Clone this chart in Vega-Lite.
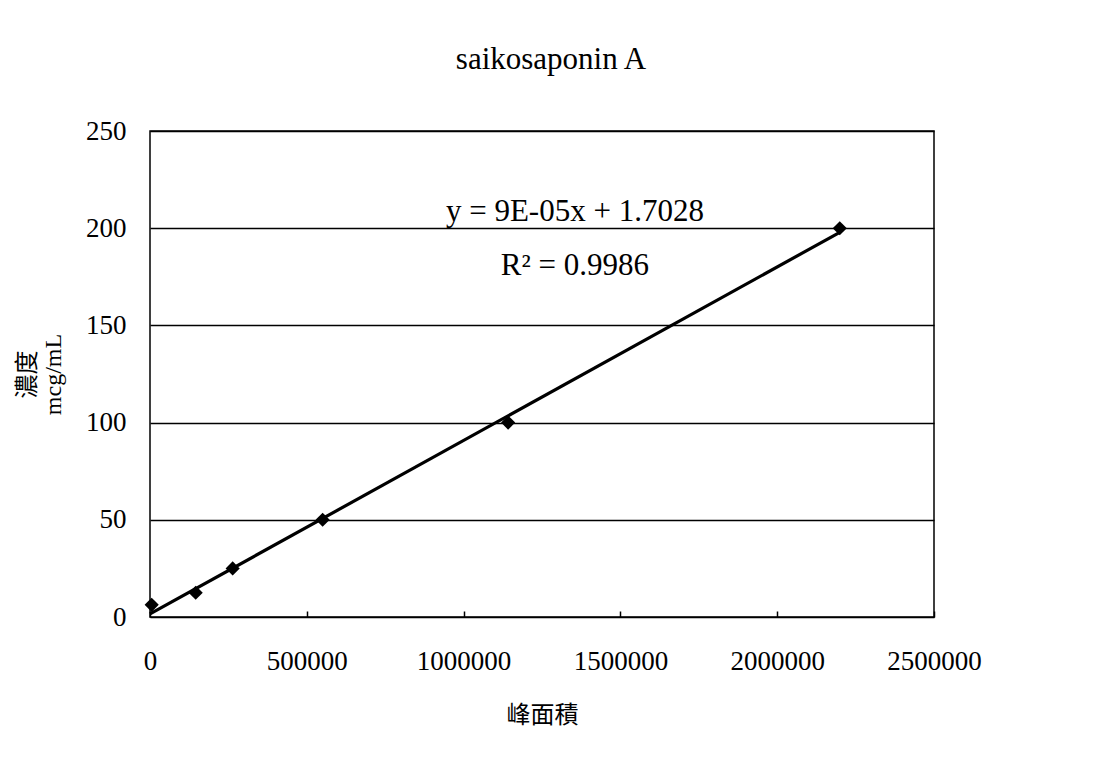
{
  "$schema": "https://vega.github.io/schema/vega-lite/v6.json",
  "width": 784,
  "height": 486,
  "autosize": {"type": "none"},
  "padding": {"left": 150, "top": 131, "right": 162, "bottom": 157},
  "background": "white",
  "title": {
    "text": "saikosaponin A",
    "font": "Liberation Serif",
    "fontSize": 31,
    "fontWeight": "normal",
    "color": "#000",
    "anchor": "middle",
    "baseline": "alphabetic",
    "offset": 17,
    "dx": 9
  },
  "data": {
    "values": [
      {"area": 5400, "conc": 6.25},
      {"area": 145700, "conc": 12.5},
      {"area": 263600, "conc": 25},
      {"area": 550500, "conc": 50},
      {"area": 1142000, "conc": 100},
      {"area": 2199500, "conc": 200}
    ]
  },
  "config": {
    "view": {"stroke": "#000", "strokeWidth": 1.5},
    "axis": {
      "labelFont": "Liberation Serif",
      "labelFontSize": 27,
      "labelColor": "#000",
      "titleColor": "#000",
      "domain": false
    }
  },
  "layer": [
    {
      "mark": {"type": "line", "color": "#000", "strokeWidth": 3.2},
      "transform": [
        {"regression": "conc", "on": "area", "extent": [0, 2199500]}
      ],
      "encoding": {
        "x": {
          "field": "area",
          "type": "quantitative",
          "scale": {"domain": [0, 2500000], "nice": false},
          "axis": {
            "values": [0, 500000, 1000000, 1500000, 2000000, 2500000],
            "format": "d",
            "grid": false,
            "tickSize": -6,
            "tickColor": "#000",
            "tickWidth": 1.5,
            "labelPadding": 37,
            "labelFlush": false,
            "labelOverlap": false,
            "title": "峰面積",
            "titleFont": "Noto Sans CJK TC",
            "titleFontSize": 24,
            "titleFontWeight": "normal",
            "titleBaseline": "middle",
            "titleY": 98
          }
        },
        "y": {
          "field": "conc",
          "type": "quantitative",
          "scale": {"domain": [0, 250], "nice": false},
          "axis": {
            "values": [0, 50, 100, 150, 200, 250],
            "grid": true,
            "gridColor": "#000",
            "gridWidth": 1.5,
            "gridOpacity": 1,
            "ticks": false,
            "labelPadding": 24,
            "title": ["濃度", "mcg/mL"],
            "titleFont": "Liberation Serif, Noto Sans CJK TC",
            "titleFontSize": 24,
            "titleFontWeight": "normal",
            "titleLineHeight": 26,
            "titlePadding": 20
          }
        }
      }
    },
    {
      "mark": {"type": "point", "shape": "diamond", "filled": true, "color": "#000", "size": 200, "opacity": 1},
      "encoding": {
        "x": {"field": "area", "type": "quantitative"},
        "y": {"field": "conc", "type": "quantitative"}
      }
    },
    {
      "data": {"values": [{"label": "y = 9E-05x + 1.7028"}]},
      "mark": {"type": "text", "font": "Liberation Serif", "fontSize": 31, "color": "#000", "align": "center", "baseline": "alphabetic"},
      "encoding": {
        "x": {"datum": 1355000, "type": "quantitative"},
        "y": {"datum": 203.7, "type": "quantitative"},
        "text": {"field": "label"}
      }
    },
    {
      "data": {"values": [{"label": "R² = 0.9986"}]},
      "mark": {"type": "text", "font": "Liberation Serif", "fontSize": 31, "color": "#000", "align": "center", "baseline": "alphabetic"},
      "encoding": {
        "x": {"datum": 1355000, "type": "quantitative"},
        "y": {"datum": 176, "type": "quantitative"},
        "text": {"field": "label"}
      }
    }
  ]
}
